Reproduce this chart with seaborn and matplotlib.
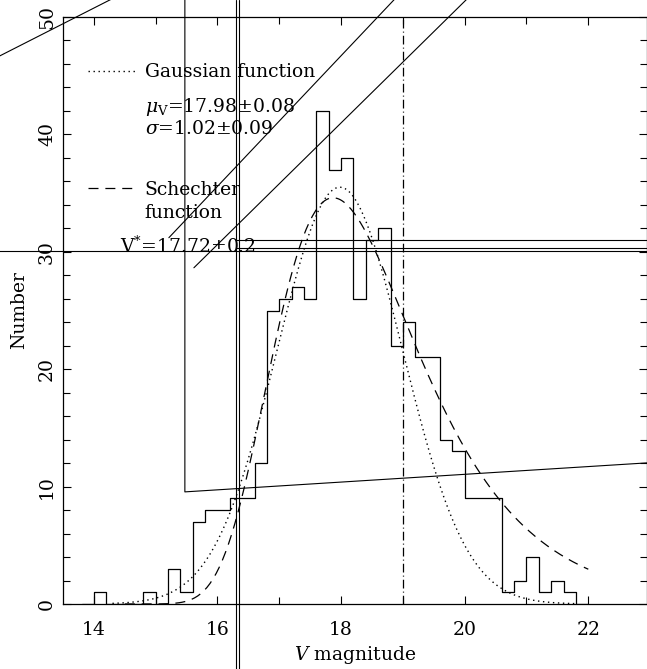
import numpy as np
import pandas as pd
import matplotlib
matplotlib.use("Agg")
import matplotlib.pyplot as plt
import seaborn as sns

# ---------------- data ----------------
bin_edges = [13.8 + 0.2 * i for i in range(42)]          # 13.8 ... 22.0
bin_centers = [round(13.9 + 0.2 * i, 2) for i in range(41)]
counts = [0, 1, 0, 0, 0, 1, 0, 3, 1, 7, 8, 8, 9, 9, 12, 25, 26, 27, 26, 42,
          37, 38, 26, 31, 32, 22, 24, 21, 21, 14, 13, 9, 9, 9, 1, 2, 4, 1, 2, 1, 0]

# fitted model parameters (as quoted on the chart)
gauss_mu, gauss_sigma, gauss_peak = 17.98, 1.02, 35.5
gauss_range = (14.3, 21.8)
sch_mstar, sch_alpha, sch_peak = 17.72, -0.13, 34.6
sch_range = (14.5, 22.0)
cut_mag = 19.0

xticks_major = [14, 16, 18, 20, 22]
yticks_major = [0, 10, 20, 30, 40, 50]

# stray overlay strokes present in the reference (data units)
stray_1_x, stray_1_y = [12.456, 14.272], [46.63, 51.49]
stray_2_x, stray_2_y = [15.213, 18.861], [31.20, 51.49]
stray_3_x, stray_3_y = [15.618, 20.029], [28.64, 51.49]
stray_4_x, stray_4_y = [12.456, 22.95], [30.09, 30.09]
stray_5_x, stray_5_y = [16.299, 22.95], [30.99, 30.99]
stray_6_x, stray_6_y = [16.299, 22.95], [30.31, 30.31]
stray_7_x, stray_7_y = [15.472, 15.472, 22.95], [51.49, 9.55, 12.02]
stray_8_x, stray_8_y = [16.299, 16.299], [51.49, -5.54]
stray_9_x, stray_9_y = [16.348, 16.348], [51.49, -5.54]

# ---------------- style ----------------
sns.set_style("ticks")
plt.rcParams["font.family"] = ["DejaVu Serif"]
plt.rcParams["mathtext.fontset"] = "dejavuserif"
plt.rcParams["font.size"] = 13.5
for k in ["text.color", "axes.labelcolor", "xtick.color", "ytick.color", "axes.edgecolor"]:
    plt.rcParams[k] = "black"

FS = 13.5

fig = plt.figure(figsize=(6.47, 6.69), dpi=100)
ax = fig.add_axes([63 / 647, 65 / 669, 584 / 647, 587 / 669])

df = pd.DataFrame({"mag": bin_centers, "n": counts})
sns.histplot(data=df, x="mag", weights="n", bins=bin_edges, element="step",
             fill=False, color="black", linewidth=0.9, ax=ax)

# model curves
gx = np.linspace(gauss_range[0], gauss_range[1], 300)
gy = gauss_peak * np.exp(-0.5 * ((gx - gauss_mu) / gauss_sigma) ** 2)
ax.plot(gx, gy, color="black", lw=1.0, linestyle=(0, (1, 2.6)))

sx = np.linspace(sch_range[0], sch_range[1], 300)
def sch(m):
    t = 10 ** (0.4 * (sch_mstar - m))
    return t ** (sch_alpha + 1) * np.exp(-t)
speak = sch(sch_mstar - 2.5 * np.log10(sch_alpha + 1))
sy = sch_peak * sch(sx) / speak
ax.plot(sx, sy, color="black", lw=0.9, linestyle=(0, (8, 5.5)))

ax.axvline(cut_mag, color="black", lw=0.9, linestyle=(0, (7, 2.5, 0.8, 2.5)))

# stray strokes
for xs, ys in [(stray_1_x, stray_1_y), (stray_2_x, stray_2_y), (stray_3_x, stray_3_y),
               (stray_4_x, stray_4_y), (stray_5_x, stray_5_y), (stray_6_x, stray_6_y),
               (stray_7_x, stray_7_y), (stray_8_x, stray_8_y), (stray_9_x, stray_9_y)]:
    ax.plot(xs, ys, color="black", lw=0.8, clip_on=False)

# axes
ax.set_xlim(13.5, 22.95)
ax.set_ylim(0, 50)
ax.set_xticks(xticks_major)
ax.set_xticks(np.arange(14, 23, 1), minor=True)
ax.set_yticks(yticks_major)
ax.set_yticks(np.arange(0, 51, 2), minor=True)
ax.tick_params(which="both", direction="in", top=True, right=True,
               width=0.8, colors="black", labelsize=FS)
ax.tick_params(which="major", length=6)
ax.tick_params(which="minor", length=5)
ax.tick_params(axis="x", pad=12)
ax.tick_params(axis="y", pad=5)
for lab in ax.get_yticklabels():
    lab.set_rotation(90)
    lab.set_va("center")
for s in ax.spines.values():
    s.set_linewidth(0.9)
    s.set_color("black")

ax.set_xlabel("$V$ magnitude", fontsize=FS, labelpad=4)
ax.set_ylabel("Number", fontsize=FS, labelpad=7)

# legend-like annotations
tr = ax.transAxes
ax.plot([0.043, 0.123], [0.908, 0.908], transform=tr, color="black", lw=1.0,
        linestyle=(0, (1, 2.6)))
ax.text(0.140, 0.8984, "Gaussian function", transform=tr, va="baseline", ha="left", fontsize=FS)
ax.text(0.140, 0.8387, r"$\mu_{\rm V}$=17.98±0.08", transform=tr, va="baseline", ha="left", fontsize=FS)
ax.text(0.140, 0.8007, r"$\sigma$=1.02±0.09", transform=tr, va="baseline", ha="left", fontsize=FS)
ax.plot([0.043, 0.123], [0.708, 0.708], transform=tr, color="black", lw=0.9,
        linestyle=(0, (8, 5.5)))
ax.text(0.140, 0.6968, "Schechter", transform=tr, va="baseline", ha="left", fontsize=FS)
ax.text(0.140, 0.657, "function", transform=tr, va="baseline", ha="left", fontsize=FS)
ax.text(0.0976, 0.5975, r"V$^{*}$=17.72±0.2", transform=tr, va="baseline", ha="left", fontsize=FS)

fig.savefig("out.png", dpi=100)
